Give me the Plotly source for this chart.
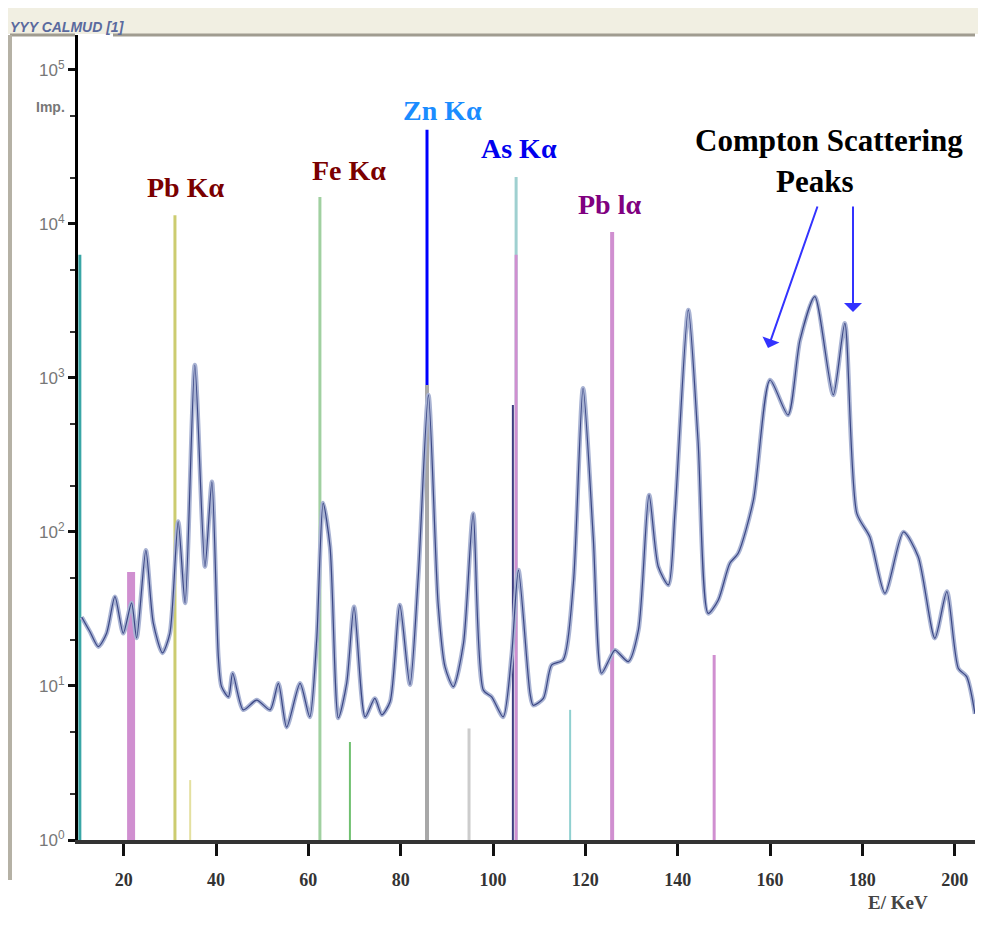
import plotly.graph_objects as go

# ---------------- data ----------------
energy_kev = [10.9, 12.7, 14.5, 16.3, 18.1, 19.9, 21.7, 22.8, 24.8, 26.4,
              28.4, 30.0, 31.8, 33.3, 35.4, 37.6, 39.1, 40.5, 41.2, 42.7,
              43.6, 45.9, 48.8, 51.7, 53.5, 55.3, 58.2, 60.3, 61.8, 63.2,
              64.7, 66.5, 68.3, 69.9, 72.3, 74.4, 75.9, 77.7, 79.8, 82.0,
              83.8, 86.0, 88.1, 89.6, 91.4, 93.6, 95.7, 97.9, 99.7, 102.2,
              104.0, 105.5, 108.0, 108.7, 110.9, 112.7, 115.2, 117.4, 119.5, 121.7,
              123.5, 125.3, 126.4, 129.3, 131.5, 133.8, 135.8, 138.0, 139.4, 142.3,
              144.4, 146.6, 148.8, 151.3, 153.1, 156.4, 160.0, 163.9, 166.5, 169.7,
              173.7, 176.2, 178.8, 181.6, 184.9, 188.9, 192.1, 195.7, 198.3, 200.8,
              202.6, 204.4]
counts = [28, 22.5, 18, 22, 38, 22, 34.6, 20.5, 76, 25.7,
          16.4, 22, 117, 34.6, 1214, 59.5, 212, 15.5, 9.9, 8.5,
          12.1, 7.0, 8.1, 7.0, 10.4, 5.4, 10.4, 6.3, 19.9, 154,
          80, 6.2, 10.4, 32.7, 6.3, 8.3, 6.5, 7.9, 33.6, 10.2,
          51, 776, 34.4, 13.3, 9.9, 18.9, 132, 9.4, 8.5, 6.3,
          15.5, 56.6, 9.0, 7.5, 8.3, 13.7, 14.8, 46.4, 857, 93,
          12.1, 15.1, 17.1, 14.4, 23.1, 174, 59.5, 45.3, 132, 2766,
          396, 29.6, 36.2, 62.6, 72.7, 161, 970, 575, 1766, 3373,
          776, 2265, 132, 93, 40, 100, 69, 20.4, 41, 13,
          11.5, 6.6]

# element marker lines (energy, lower and upper intensity)
line_energy = [10.5, 21.6, 31.1, 34.4, 62.5, 69.0, 85.7, 85.7, 94.8, 105.0, 105.0, 104.3, 116.7, 125.8, 147.9]
line_bottom = [1, 1, 1, 1, 1, 1, 1, 900, 1, 1, 1, 1, 1, 1, 1]
line_top = [6300, 55, 11400, 2.45, 14970, 4.33, 900, 40900, 5.3, 20200, 6300, 668, 7.0, 8870, 15.9]
line_color = ["#3aa6a6", "#d08fd0", "#cccc70", "#e4e0a0", "#a0d0a0", "#70c070", "#a8a8a8", "#0000ff",
              "#cccccc", "#9fd0d0", "#d08fd0", "#3c3c80", "#90d0d0", "#d08fd0", "#d08fd0"]
line_width = [3, 8, 3, 2, 3, 2, 4, 3, 3, 3, 3, 2, 2, 4, 3]

x_ticks = [20, 40, 60, 80, 100, 120, 140, 160, 180, 200]
x_ticktext = ["<b>20</b>", "<b>40</b>", "<b>60</b>", "<b>80</b>", "<b>100</b>", "<b>120</b>",
              "<b>140</b>", "<b>160</b>", "<b>180</b>", "<b>200</b>"]
y_ticks = [1, 10, 100, 1000, 10000, 100000]
y_ticktext = ["10<sup>0</sup>", "10<sup>1</sup>", "10<sup>2</sup>", "10<sup>3</sup>", "10<sup>4</sup>", "10<sup>5</sup>"]
y_minor = [2, 5, 20, 50, 200, 500, 2000, 5000, 20000, 50000]

# ---------------- geometry helpers (reference pixels -> paper) ----------------
OFF = 8  # page body margin
W, H = 986 - OFF, 934 - OFF
L, R, T, B = 78 - OFF, 975 - OFF, 35 - OFF, 840 - OFF
def px(x):
    return (x - OFF - L) / (R - L)
def py(y):
    return (B - (y - OFF)) / (B - T)

fig = go.Figure()

for e, b, t, c, w in zip(line_energy, line_bottom, line_top, line_color, line_width):
    fig.add_trace(go.Scatter(x=[e, e], y=[b, t], mode="lines",
                             line=dict(color=c, width=w), hoverinfo="skip", showlegend=False))

fig.add_trace(go.Scatter(x=energy_kev, y=counts, mode="lines",
                         line=dict(color="#a9b3d3", width=4.5, shape="spline", smoothing=0.7),
                         showlegend=False, hoverinfo="skip"))
fig.add_trace(go.Scatter(x=energy_kev, y=counts, mode="lines",
                         line=dict(color="#3b4785", width=1.2, shape="spline", smoothing=0.7),
                         showlegend=False))

serif = "Liberation Serif"
ann = []
def label(text, x, y, color, size=28):
    ann.append(dict(text="<b>" + text + "</b>", x=px(x), y=py(y), xref="paper", yref="paper",
                    showarrow=False, font=dict(family=serif, size=size, color=color),
                    xanchor="center", yanchor="middle"))

label("Pb Kα", 185, 188, "#7a0000")
label("Fe Kα", 349, 170, "#7a0000")
label("Zn Kα", 442, 111, "#1a8cff")
label("As Kα", 519, 148, "#0000ee")
label("Pb lα", 609, 205, "#800080")
label("Compton Scattering", 829, 140, "#000000", 31)
label("Peaks", 815, 182, "#000000", 31)

# arrows
for hx, hy, tx, ty in [(768, 348, 818, 205), (853, 312, 853, 205)]:
    ann.append(dict(x=px(hx), y=py(hy), xref="paper", yref="paper", ax=tx - hx, ay=ty - hy,
                    showarrow=True, arrowhead=1, arrowsize=1.5, arrowwidth=2, arrowcolor="#3333ff", text=""))

ann.append(dict(text="<b>E/ KeV</b>", x=px(930), y=py(915), xref="paper", yref="paper", showarrow=False,
                font=dict(family=serif, size=19, color="#444")))
ann.append(dict(text="<b>Imp.</b>", x=px(34), y=py(97), xref="paper", yref="paper", showarrow=False,
                font=dict(family="Liberation Sans", size=14, color="#777")))
ann.append(dict(text="<i><b>YYY CALMUD [1]</b></i>", x=px(8), y=py(17), xref="paper", yref="paper",
                showarrow=False, xanchor="left", font=dict(family="Liberation Sans", size=14, color="#5a6a9e")))

shapes = [
    dict(type="rect", xref="paper", yref="paper", x0=px(0), x1=px(986), y0=py(34), y1=py(0),
         fillcolor="#f1efe2", line=dict(width=0), layer="below"),
    dict(type="line", xref="paper", yref="paper", x0=px(10), x1=px(75), y0=py(35), y1=py(35),
         line=dict(color="#a09c90", width=3)),
    dict(type="line", xref="paper", yref="paper", x0=px(113), x1=px(975), y0=py(35), y1=py(35),
         line=dict(color="#a09c90", width=3)),
    dict(type="line", xref="paper", yref="paper", x0=px(10), x1=px(10), y0=py(35), y1=py(880),
         line=dict(color="#b5b1a5", width=4)),
    dict(type="rect", xref="paper", yref="paper", x0=px(979), x1=px(986), y0=py(934), y1=py(0),
         fillcolor="#ece9d8", line=dict(width=0)),
]

fig.update_layout(
    width=W, height=H,
    margin=dict(l=L, r=W - R, t=T, b=H - B),
    paper_bgcolor="white", plot_bgcolor="white",
    showlegend=False,
    annotations=ann, shapes=shapes,
    xaxis=dict(range=[10.1, 204.4], tickmode="array", tickvals=x_ticks, ticktext=x_ticktext,
               showgrid=False, zeroline=False, showline=True, linecolor="#333", linewidth=4,
               ticks="outside", ticklen=12, tickwidth=3, tickcolor="#111",
               tickfont=dict(family=serif, size=18, color="#333"), ticklabelstandoff=8),
    yaxis=dict(type="log", range=[0, 5.227], tickmode="array", tickvals=y_ticks, ticktext=y_ticktext,
               showgrid=False, zeroline=False, showline=True, linecolor="#000", linewidth=3,
               ticks="outside", ticklen=7, tickwidth=3, tickcolor="#111",
               tickfont=dict(family="Liberation Sans", size=17, color="#777"),
               minor=dict(tickmode="array", tickvals=y_minor, ticks="outside", ticklen=5, tickwidth=2,
                          tickcolor="#333", showgrid=False)),
)

fig.write_html("out.html")
